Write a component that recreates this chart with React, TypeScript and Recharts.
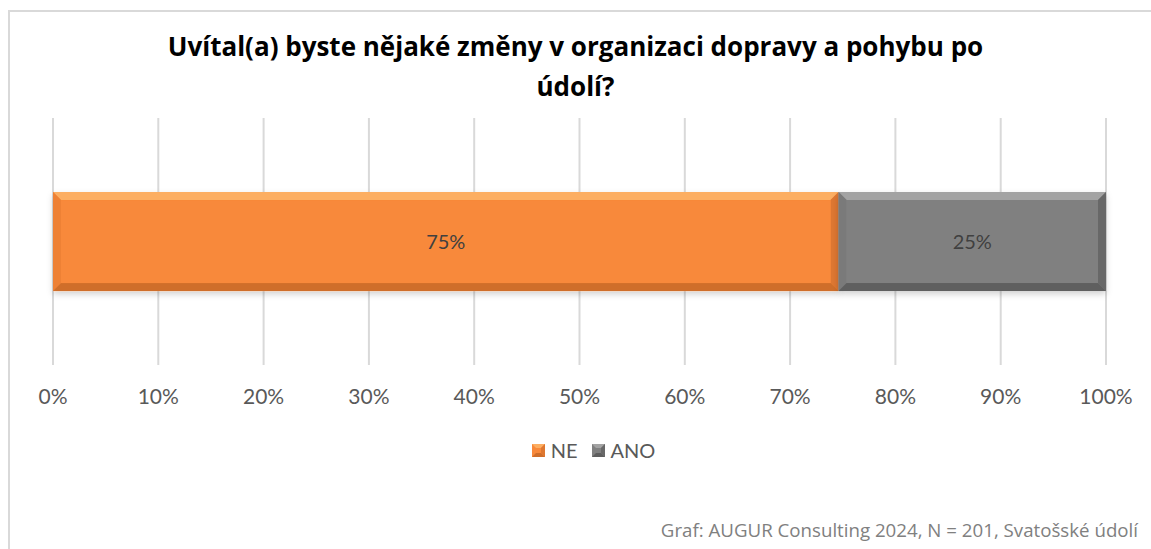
import React from "react";
import { BarChart, Bar, XAxis, YAxis, CartesianGrid, LabelList } from "recharts";

const categories = ["Uvítal(a)"];
const seriesNames = ["NE", "ANO"];
const neValues = [0.746];
const anoValues = [0.254];
const xTicks = [0, 0.1, 0.2, 0.3, 0.4, 0.5, 0.6, 0.7, 0.8, 0.9, 1];

const titleLines = [
  "Uvítal(a) byste nějaké změny v organizaci dopravy a pohybu po",
  "údolí?",
];
const footer = "Graf: AUGUR Consulting 2024, N = 201, Svatošské údolí";

const palette: Record<string, { main: string; top: string; left: string; bottom: string; right: string }> = {
  NE: { main: "#F8893A", top: "#FCAE62", left: "#EE8134", bottom: "#CF6E2A", right: "#DE7730" },
  ANO: { main: "#808080", top: "#A3A3A3", left: "#7A7A7A", bottom: "#5E5E5E", right: "#686868" },
};

const data = categories.map((name, i) => ({
  name,
  NE: neValues[i],
  ANO: anoValues[i],
}));

const pct = (v: number) => `${Math.round(v * 100)}%`;

function BevelBar(props: any) {
  const { x, y, width, height, name } = props;
  const key = props.dataKey || name;
  const c = palette[key] || palette.NE;
  const b = 8;
  return (
    <g filter="url(#barShadow)">
      <rect x={x} y={y} width={width} height={height} fill={c.main} />
      <polygon
        points={`${x},${y} ${x + width},${y} ${x + width - b},${y + b} ${x + b},${y + b}`}
        fill={c.top}
      />
      <polygon
        points={`${x},${y} ${x + b},${y + b} ${x + b},${y + height - b} ${x},${y + height}`}
        fill={c.left}
      />
      <polygon
        points={`${x + width},${y} ${x + width},${y + height} ${x + width - b},${y + height - b} ${x + width - b},${y + b}`}
        fill={c.right}
      />
      <polygon
        points={`${x},${y + height} ${x + width},${y + height} ${x + width - b},${y + height - b} ${x + b},${y + height - b}`}
        fill={c.bottom}
      />
      <rect x={x + b} y={y + b} width={Math.max(0, width - 2 * b)} height={height - 2 * b} fill={c.main} />
    </g>
  );
}

export default function App() {
  return (
    <div style={{ position: "absolute", left: 0, top: 0, width: 1151, height: 549, overflow: "hidden", background: "#fff" }}>
      <div
        style={{
          position: "absolute",
          left: 8,
          top: 10,
          width: 1200,
          height: 600,
          border: "2px solid #d9d9d9",
        }}
      />
      <div
        style={{
          position: "absolute",
          left: 0,
          top: 26,
          width: 1151,
          textAlign: "center",
          fontFamily: "'Open Sans', sans-serif",
          fontWeight: 700,
          fontSize: 26,
          lineHeight: "40px",
          color: "#000",
        }}
      >
        {titleLines.map((t) => (
          <div key={t}>{t}</div>
        ))}
      </div>
      <div style={{ position: "absolute", left: 0, top: 0 }}>
        <BarChart
          width={1151}
          height={549}
          data={data}
          layout="vertical"
          barCategoryGap="30%"
          margin={{ top: 118, right: 45, left: 53, bottom: 154 }}
        >
          <defs>
            <filter id="barShadow" x="-5%" y="-20%" width="110%" height="160%">
              <feDropShadow dx="0" dy="3" stdDeviation="3" floodColor="#000" floodOpacity="0.18" />
            </filter>
          </defs>
          <CartesianGrid horizontal={false} stroke="#d9d9d9" strokeWidth={2} />
          <XAxis
            type="number"
            domain={[0, 1]}
            ticks={xTicks}
            tickFormatter={pct}
            axisLine={false}
            tickLine={false}
            tickMargin={18}
            height={30}
            interval={0}
            tick={{ fill: "#595959", fontSize: 21, fontFamily: "Lato, sans-serif" }}
          />
          <YAxis type="category" dataKey="name" hide />
          {seriesNames.map((s) => (
            <Bar key={s} dataKey={s} stackId="a" isAnimationActive={false} shape={<BevelBar dataKey={s} />}>
              <LabelList
                dataKey={s}
                position="center"
                formatter={(v: any) => pct(Number(v))}
                fill="#404040"
                fontSize={20}
                fontFamily="Lato, sans-serif"
              />
            </Bar>
          ))}
        </BarChart>
      </div>
      <div
        style={{
          position: "absolute",
          left: 18,
          top: 438,
          width: 1151,
          display: "flex",
          justifyContent: "center",
          alignItems: "center",
          gap: 14,
          fontFamily: "Lato, sans-serif",
          fontSize: 20,
          color: "#595959",
        }}
      >
        {seriesNames.map((s) => (
          <div key={s} style={{ display: "flex", alignItems: "center", gap: 6 }}>
            <svg width={13} height={13}>
              <rect x={0} y={0} width={13} height={13} fill={palette[s].main} />
              <polygon points="0,0 13,0 9,4 4,4" fill={palette[s].top} />
              <polygon points="0,13 13,13 9,9 4,9" fill={palette[s].bottom} />
              <polygon points="13,0 13,13 9,9 9,4" fill={palette[s].right} />
            </svg>
            <span>{s}</span>
          </div>
        ))}
      </div>
      <div
        style={{
          position: "absolute",
          right: 13,
          top: 517,
          fontFamily: "'Open Sans', sans-serif",
          fontSize: 18.7,
          color: "#808080",
          whiteSpace: "nowrap",
        }}
      >
        {footer}
      </div>
    </div>
  );
}
